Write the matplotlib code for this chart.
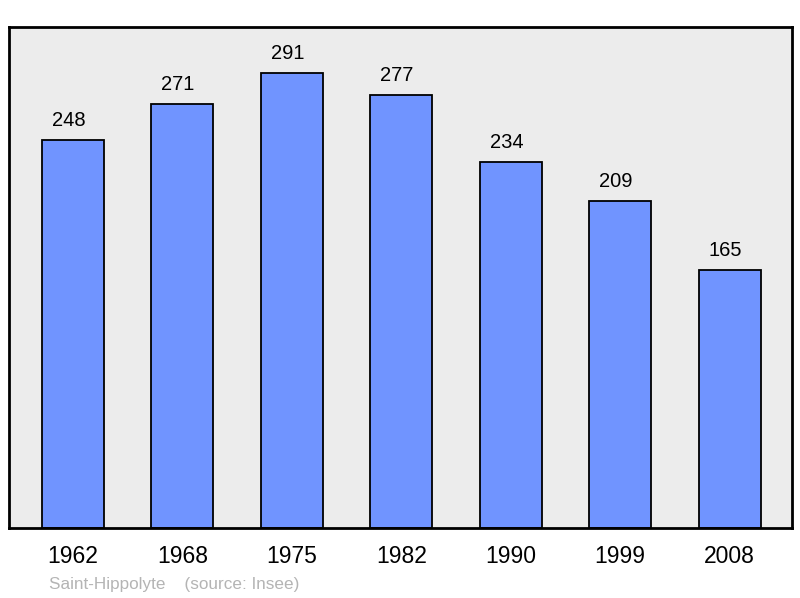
import matplotlib
matplotlib.use("Agg")
import matplotlib.pyplot as plt

years = ["1962", "1968", "1975", "1982", "1990", "1999", "2008"]
population = [248, 271, 291, 277, 234, 209, 165]
caption = "Saint-Hippolyte    (source: Insee)"

plt.rcParams['font.family'] = ['Liberation Sans', 'DejaVu Sans']

fig = plt.figure(figsize=(8.0, 5.98), dpi=100)
W, H = 800, 598
ax = fig.add_axes([9 / W, 1 - 528 / H, (792 - 9) / W, (528 - 27) / H])
ax.set_facecolor('#ececec')
x = list(range(len(years)))
ax.bar(x, population, width=0.567, color='#7094ff', edgecolor='black', linewidth=1.3, zorder=2)
for xi, v in zip(x, population):
    ax.text(xi - 0.04, v + 6.5, str(v), ha='center', va='bottom', fontsize=14.5, color='black')
ax.set_xlim(-0.585, 6.57)
ax.set_ylim(0, 320.4)
ax.set_yticks([])
ax.set_xticks(x)
ax.set_xticklabels(years, fontsize=16.5)
ax.tick_params(axis='x', length=0, pad=12)
for s in ax.spines.values():
    s.set_linewidth(2)
    s.set_color('black')
fig.text(49 / W, 1 - 584 / H, caption, fontsize=12.3, color='#b4b4b4', va='center', ha='left')
fig.savefig("out.png", dpi=100)
